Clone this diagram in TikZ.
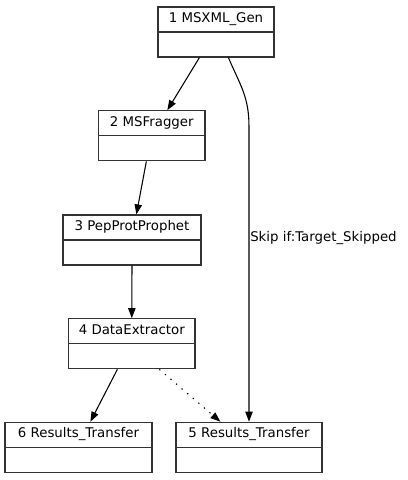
\documentclass[tikz,border=0pt]{standalone}
\usepackage{fontspec}
\setmainfont{DejaVu Sans}
\usetikzlibrary{arrows.meta,calc}
\begin{document}
\begin{tikzpicture}[x=0.75pt,y=-0.75pt,
  font=\fontsize{10pt}{12pt}\selectfont,
  umlbox/.style={draw=black!80, line width=0.9pt, minimum width=#1*0.75pt,
    inner xsep=0pt, inner ysep=0pt, text height=11.5pt, text depth=26pt,
    path picture={\draw[black!80, line width=0.9pt] (path picture bounding box.west) -- (path picture bounding box.east);}},
  flow/.style={line width=0.8pt, -{Triangle[length=7.5pt,width=5.5pt]}},
  skiplabel/.style={anchor=west, inner sep=0pt}
]
\useasboundingbox (0,0) rectangle (408,480);
\node[umlbox=116]   (n1) at (216,32)     {1 MSXML\_Gen};
\node[umlbox=106.3] (n2) at (151.8,135.8) {2 MSFragger};
\node[umlbox=138]   (n3) at (132,240)    {3 PepProtProphet};
\node[umlbox=126.3] (n4) at (131.8,343.8) {4 DataExtractor};
\node[umlbox=147]   (n6) at (78.5,447.3) {6 Results\_Transfer};
\node[umlbox=146]   (n5) at (249,447.3)  {5 Results\_Transfer};

\draw[flow] ($(n1.south west)+(42,0)$) -- ($(n2.north west)+(69.3,0)$);
\draw[flow] ($(n2.south west)+(48.3,0)$) -- ($(n3.north west)+(74,0)$);
\draw[flow] (n3.south) -- (n4.north);
\draw[flow] ($(n4.south west)+(49.3,0)$) -- ($(n6.north west)+(86,0)$);
\draw[flow, dash pattern=on 1pt off 4.5pt] ($(n4.south west)+(91.3,0)$) -- ($(n5.north west)+(45,0)$);
\draw[flow] ($(n1.south west)+(71,0)$) .. controls +(12,28) and +(0,-30) .. ($(n5.north)+(0,-295)$) -- (n5.north);
\node[skiplabel] (lbl) at ($(n5.north)+(1,-184)$) {Skip if:Target\_Skipped};
\end{tikzpicture}
\end{document}
